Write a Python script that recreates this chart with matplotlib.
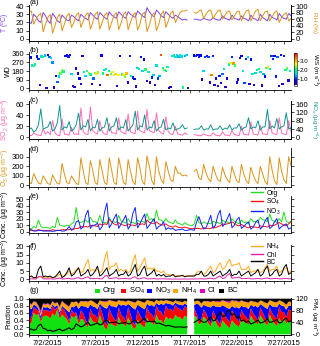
import numpy as np
import pandas as pd
import matplotlib
matplotlib.use('Agg')
import matplotlib.pyplot as plt
import matplotlib.dates as mdates
from matplotlib.ticker import FuncFormatter, NullFormatter
from matplotlib.colors import LinearSegmentedColormap
from matplotlib.lines import Line2D
from matplotlib.patches import Rectangle

plt.rcParams['font.family'] = ['Liberation Sans', 'DejaVu Sans']
plt.rcParams['mathtext.fontset'] = 'custom'
plt.rcParams['mathtext.rm'] = 'Liberation Sans'
plt.rcParams['mathtext.it'] = 'Liberation Sans:italic'
plt.rcParams['axes.linewidth'] = 0.6
nan = np.nan

# ---------------- data (6-hourly: 0,6,12,18 h, 6/30 - 7/27) ----------------
temp = [20,19,30,27, 22,20,32,28, 22,19,31,27, 22,20,29,26, 23,22,29,27, 24,22,30,27, 25,23,32,29,
        26,24,32,29, 26,24,33,29, 27,25,33,30, 27,25,33,30, 28,26,34,31, 28,26,38,33, 29,27,35,32,
        28,26,33,30, 27,25,29,27, 25,23,24,23, nan,nan,24,24, 23,23,25,24, 23,23,26,24, 23,23,28,25,
        24,23,29,25, 24,23,28,25, 24,22,29,25, 24,22,30,26, 24,22,30,26, 25,23,31,27, 25,24,31,28]
rh = [83,85,45,60, 72,78,22,45, 65,75,18,40, 65,75,25,45, 70,78,35,50, 72,80,35,55, 72,80,30,50,
      75,82,30,50, 72,80,28,50, 72,80,28,48, 75,82,28,50, 72,80,27,45, 75,82,22,42, 70,80,25,45,
      75,85,35,55, 78,85,50,65, 80,85,85,88, nan,nan,80,78, 85,88,62,75, 85,88,62,75, 85,88,60,72,
      82,85,58,70, 82,85,55,72, 85,88,55,70, 85,90,55,70, 82,85,55,68, 80,85,50,65, 75,80,55,62]
so2 = [4,3,8,5, 4,3,15,6, 10,5,30,8, 4,3,33,6, 5,4,18,6, 6,5,53,10, 6,5,55,12, 8,6,30,10, 6,5,25,8,
       8,6,35,10, 8,6,42,10, 8,7,47,12, 10,8,50,12, 10,8,44,12, 8,6,37,10, 6,5,20,6, 5,4,8,5,
       nan,nan,5,4, 3,3,6,4, 3,3,8,4, 3,3,10,4, 4,3,12,5, 4,3,20,5, 5,4,28,6, 5,4,22,6, 6,5,30,8,
       6,5,35,8, 6,5,30,10]
nox = [40,45,25,35, 60,137,40,45, 50,76,30,40, 70,153,35,50, 45,76,30,40, 60,116,35,55, 50,86,30,50,
       45,86,30,45, 50,94,30,50, 55,94,35,50, 45,85,30,45, 60,126,35,55, 50,108,35,50, 45,80,30,45,
       50,86,35,45, 40,70,35,40, 45,60,40,45, nan,nan,38,40, 40,55,35,40, 40,60,35,40, 40,55,35,45,
       40,60,35,45, 45,65,35,45, 50,94,40,50, 45,80,35,50, 50,134,40,55, 45,90,40,50, 55,118,40,45]
o3 = [30,20,125,70, 25,15,100,60, 20,10,110,60, 20,15,230,120, 30,20,100,60, 20,10,290,150,
      30,10,260,160, 30,10,270,150, 30,10,290,160, 30,10,290,170, 30,10,270,150, 40,10,290,180,
      40,10,310,200, 50,5,300,150, 60,20,250,150, 60,40,200,130, 130,100,110,100, nan,nan,150,170,
      80,60,220,130, 70,40,200,120, 60,40,190,110, 60,30,200,120, 50,30,220,120, 50,20,190,110,
      50,20,200,120, 40,10,300,160, 50,10,290,150, 60,20,300,210]
org = [5,4,8,6, 18,8,6,7, 6,5,8,6, 22,10,9,8, 10,9,12,14, 37,15,14,16, 18,14,22,16, 15,14,25,14,
       14,13,22,15, 15,14,25,16, 15,13,20,14, 14,12,18,15, 16,14,28,18, 20,15,33,18, 18,14,20,15,
       14,12,18,13, 12,10,14,11, 10,9,12,25, 14,12,15,13, 13,12,16,14, 14,12,18,15, 15,13,20,16,
       14,12,18,14, 15,12,20,15, 16,14,22,18, 18,15,27,17, 16,14,20,15, 30,16,14,16]
so4 = [2,2,2,2, 3,2,2,2, 2,2,3,2, 2,2,3,3, 3,3,4,4, 5,5,8,7, 8,7,10,9, 9,8,12,10, 12,11,19,15,
       12,10,14,11, 10,9,12,10, 10,9,13,11, 12,11,18,14, 13,12,15,12, 11,10,12,9, 8,7,9,7, 6,6,7,6,
       5,5,5,5, 5,4,6,5, 5,5,7,6, 8,9,12,11, 12,13,15,13, 10,9,11,9, 7,6,8,7, 7,6,9,8, 8,7,10,9,
       10,12,14,12, 10,9,12,15]
no3 = [5,3,1,1, 2,2,1,1, 1,1,0.5,1, 2,2,1,1, 3,8,2,5, 15,17,4,8, 25,33,5,10, 10,13,3,8, 30,44,6,12,
       20,27,5,12, 18,25,4,10, 28,37,6,12, 20,27,5,10, 15,20,4,8, 10,15,3,6, 4,5,2,3, 3,4,2,2,
       3,3,2,15, 23,12,4,6, 15,25,5,10, 25,33,8,12, 20,28,6,10, 18,22,5,8, 12,15,4,7, 14,18,4,8,
       16,22,5,8, 15,20,4,8, 10,12,4,6]
nh4 = [2,1.5,1,1, 1.5,1.5,1,1, 1,1,1,1, 2,3,2,2, 3,5,3,4, 6,7,4,5, 9,12,5,6, 5,6,4,5, 12,17,6,8,
       8,10,5,6, 5,6,4,5, 11,15,5,7, 10,13,6,7, 6,7,5,5, 4,5,3,3, 2.5,2.5,2,2, 2,2,2,2, 2,2,2,4,
       5,4,3,4, 6,8,4,5, 8,10,6,7, 10,12,8,9, 9,10,6,6, 6,8,4,5, 5,6,4,5, 7,9,5,6, 6,8,4,5, 6,7,4,5]
chl = [0.3,0.3,0.2,0.2, 1.5,2,0.3,0.3, 0.3,0.3,0.2,0.2, 0.5,0.8,0.2,0.3, 0.5,0.6,0.2,0.3,
       0.8,1.0,0.3,0.4, 1.2,1.5,0.3,0.5, 0.5,0.7,0.3,0.3, 1.8,2.5,0.4,0.6, 0.8,1.0,0.3,0.4,
       0.5,0.6,0.3,0.3, 1.2,1.5,0.3,0.4, 0.8,1.0,0.3,0.3, 0.4,0.5,0.2,0.3, 0.3,0.4,0.2,0.2,
       0.2,0.2,0.2,0.2, 0.2,0.2,0.2,0.2, 0.2,0.2,0.2,0.3, 0.3,0.4,0.2,0.3, 0.5,0.8,0.3,0.4,
       1.5,2.0,0.5,0.8, 2.5,3.5,0.6,1.0, 1.0,1.5,0.4,0.5, 0.5,0.7,0.3,0.3, 0.4,0.6,0.3,0.3,
       0.6,0.8,0.3,0.4, 0.5,0.6,0.3,0.3, 0.5,0.6,0.3,0.4]
bc = [1.5,2,1,1, 6,8,1.5,2, 1.5,2,1,1.5, 3,5,1,2, 4,7,2,3, 5,7,2,3, 4,6,2,3, 5,8,2,3, 5,7,2,3,
      4,6,2,3, 3,5,2,3, 6,9,2,3, 6,8,2,3, 4,6,2,3, 2,3,1.5,2, 2,3,1.5,2, 2,2.5,1.5,2, 2,2,2,3,
      3,5,2,2, 3,5,2,3, 4,5,2,3, 4,6,2,3, 3,5,2,3, 4,5,2,3, 4,6,2,3, 6,8,2,3, 5,6,2,3, 7,9,3,4]
pm = [15,18,14,16, 30,34,20,18, 12,14,10,12, 15,18,12,14, 18,22,16,20, 35,30,25,28, 35,40,30,32,
      35,38,32,34, 45,48,38,40, 40,42,35,38, 38,40,35,36, 45,48,38,40, 48,54,42,44, 42,45,36,38,
      35,32,28,30, 28,26,24,25, 25,24,24,25, nan,nan,40,45, 50,45,40,42, 50,58,45,48, 65,75,60,62,
      78,80,65,70, 55,60,45,48, 40,45,35,38, 42,48,38,40, 45,52,40,42, 45,50,38,40, 50,55,42,45]

# wind (4-hourly)
wd = [340,325,240,230,250,335, 310,30,335,330,345,0, 350,330,320,270,5,130, 65,120,155,185,175,340,
      345,335,350,150,20,10, 205,155,100,45,340,170, 130,180,160,145,45,100, 160,150,165,30,345,155,
      190,200,135,180,150,170, 140,150,20,135,340,145, 140,120,155,60,340,130, 110,95,15,210,200,330,
      180,300,195,75,170,60, 110,140,30,240,100,125, 350,210,190,180,220,0, 10,340,345,330,350,335,
      345,335,5,340,350,0, nan,nan,nan,345,340,350, 335,345,90,180,330,340, 330,60,135,340,30,100,
      20,130,50,150,200,10, 100,250,265,330,260,240, 60,90,320,340,180,50, 310,330,45,300,150,30,
      160,190,200,170,25,150, 120,210,225,200,340,310, 340,120,330,20,350,45, 340,190,205,80,180,nan]
ws = [0.6,0.8,1.8,2.2,1.9,0.9, 1.0,0.7,1.6,2.0,1.4,0.5, 0.8,1.2,1.5,1.3,0.6,0.8, 1.2,1.6,2.3,2.5,2.1,0.9,
      0.8,1.0,0.7,1.5,0.5,0.6, 0.7,0.8,0.9,0.6,0.8,1.8, 1.5,2.2,2.4,2.0,0.7,1.2, 2.4,2.8,2.5,0.6,0.9,2.1,
      1.7,1.9,3.4,2.0,2.3,2.6, 2.6,2.9,0.5,2.7,0.9,2.2, 2.8,2.4,3.0,0.8,1.0,2.0, 1.0,0.9,0.5,1.7,1.8,0.8,
      1.6,0.9,2.2,0.6,1.9,0.5, 1.0,1.5,0.5,1.7,1.1,1.4, 3.5,2.1,2.3,2.0,1.9,0.6, 0.6,1.7,2.0,1.8,1.6,1.4,
      1.9,1.6,2.1,1.4,1.5,0.5, nan,nan,nan,0.9,1.1,0.8, 1.0,0.8,0.6,1.5,1.1,0.7, 1.1,0.7,3.3,1.0,0.6,0.7,
      0.6,1.0,0.8,1.2,1.6,0.5, 0.6,2.0,2.6,1.0,3.2,2.2, 0.7,0.9,0.6,0.8,1.7,1.1, 1.0,1.5,0.6,0.8,2.0,0.7,
      1.6,1.8,2.1,1.7,0.5,1.4, 0.9,2.3,2.8,2.0,1.1,1.0, 0.8,1.0,1.2,0.6,0.7,0.6, 1.0,2.1,2.3,0.7,1.9,nan]

date_ticks = ['2015-07-02', '2015-07-07', '2015-07-12', '2015-07-17', '2015-07-22', '2015-07-27']
legend_g = ['Org', 'SO$_4$', 'NO$_3$', 'NH$_4$', 'Cl', 'BC']

t6 = pd.date_range('2015-06-30', periods=len(temp), freq='6h')
t4 = pd.date_range('2015-06-30', periods=len(wd), freq='4h')

FS = 5.5
LFS = 5.0
W, H = 320, 346
fig = plt.figure(figsize=(3.2, 3.46), dpi=100)

def add_ax(top, bottom):
    return fig.add_axes([29 / W, 1 - bottom / H, 262 / W, (bottom - top) / H])

xmin = pd.Timestamp('2015-06-30 00:00')
xmax = pd.Timestamp('2015-07-27 18:00')

def datefmt(x, pos):
    d = mdates.num2date(x)
    return f"{d.month}/{d.day}/{d.year}"

def setup(ax, labels=False, right_ticks=True):
    ax.set_xlim(xmin, xmax)
    ax.set_xticks([pd.Timestamp(d) for d in date_ticks])
    ax.xaxis.set_minor_locator(mdates.DayLocator())
    if labels:
        ax.xaxis.set_major_formatter(FuncFormatter(datefmt))
    else:
        ax.xaxis.set_major_formatter(NullFormatter())
    ax.tick_params(which='major', direction='out', length=2.5, width=0.5, labelsize=FS, pad=1)
    ax.tick_params(which='minor', direction='out', length=1.5, width=0.5)
    ax.spines['top'].set_visible(False)
    if right_ticks:
        ax.tick_params(axis='y', which='both', right=True, labelright=False)

def lab(ax, text, color='black', side='left'):
    if side == 'left':
        ax.set_ylabel(text, color=color, fontsize=LFS, labelpad=0)
        ax.yaxis.set_label_coords(-0.064, 0.5)
    else:
        ax.set_ylabel(text, color=color, fontsize=4.6, rotation=270, labelpad=0, va='center')
        ax.yaxis.set_label_coords(1.088, 0.5)

def panel(letter, y):
    fig.text(30 / W, 1 - y / H, letter, fontsize=FS, ha='left', va='center')

c_T = '#8040f0'
c_RH = '#d8951a'
c_so2 = '#ff6cb5'
c_nox = '#13938f'
c_o3 = '#d8951a'
c_org, c_so4, c_no3 = '#22dd22', '#ff1111', '#1122ff'
c_nh4, c_chl, c_bc = '#ffaa22', '#e020b0', '#000000'

# (a)
ax = add_ax(5.2, 40.6)
setup(ax, right_ticks=False)
ax.plot(t6, temp, color=c_T, lw=0.7)
ax.set_ylim(-2, 41)
ax.set_yticks([0, 10, 20, 30, 40])
lab(ax, 'T ($^o$C)', c_T)
ax2 = ax.twinx()
setup(ax2, right_ticks=False)
ax2.plot(t6, rh, color=c_RH, lw=0.7)
ax2.set_ylim(-5, 102.5)
ax2.set_yticks([0, 20, 40, 60, 80, 100])
ax2.tick_params(axis='y', labelsize=FS, pad=1, length=2.5, width=0.5)
lab(ax2, 'RH (%)', c_RH, 'right')
panel('(a)', 3)

# (b)
cmap = LinearSegmentedColormap.from_list('ws', ['#4000a0', '#0000ff', '#00d0ff', '#00ff80',
                                                '#ffff00', '#ff8000', '#ff0000'])
ax = add_ax(52.1, 89.9)
setup(ax, right_ticks=False)
ax.spines['right'].set_visible(False)
sc = ax.scatter(t4, wd, c=ws, cmap=cmap, vmin=0.3, vmax=3.9, s=3, marker='s', linewidths=0)
ax.set_ylim(-20, 380)
ax.set_yticks([0, 90, 180, 270, 360])
lab(ax, 'WD')
panel('(b)', 50)
cax = fig.add_axes([294.2 / W, 1 - 85.5 / H, 3 / W, 32.5 / H])
cb = fig.colorbar(sc, cax=cax, ticks=[1, 2, 3], format='%.1f')
cb.outline.set_linewidth(0.4)
cax.tick_params(labelsize=4.4, length=1.2, width=0.4, pad=0.5)
cax.set_ylabel('WS (m s$^{-1}$)', fontsize=4.6, rotation=270, va='center')
cax.yaxis.set_label_coords(6.9, 0.5)

# (c)
ax = add_ax(100.7, 139)
setup(ax, right_ticks=False)
ax.plot(t6, so2, color=c_so2, lw=0.7)
ax.set_ylim(-3, 66)
ax.set_yticks([0, 20, 40, 60])
lab(ax, 'SO$_2$ (µg m$^{-3}$)', c_so2)
ax2 = ax.twinx()
setup(ax2, right_ticks=False)
ax2.plot(t6, nox, color=c_nox, lw=0.7)
ax2.set_ylim(-8, 176)
ax2.set_yticks([0, 40, 80, 120, 160])
ax2.tick_params(axis='y', labelsize=FS, pad=1, length=2.5, width=0.5)
lab(ax2, 'NO$_x$ (µg m$^{-3}$)', c_nox, 'right')
panel('(c)', 101)

# (d)
ax = add_ax(148.2, 186.9)
setup(ax)
ax.plot(t6, o3, color=c_o3, lw=0.7)
ax.set_ylim(-15, 390)
ax.set_yticks([0, 100, 200, 300])
lab(ax, 'O$_3$ (µg m$^{-3}$)', c_o3)
panel('(d)', 150)

# (e)
ax = add_ax(196.4, 233)
setup(ax)
ax.plot(t6, org, color=c_org, lw=0.7)
ax.plot(t6, so4, color=c_so4, lw=0.7)
ax.plot(t6, no3, color=c_no3, lw=0.7)
ax.set_ylim(-2, 54)
ax.set_yticks([0, 10, 20, 30, 40, 50])
lab(ax, 'Conc. (µg m$^{-3}$)')
panel('(e)', 196)
hs = [Line2D([], [], color=c, lw=1) for c in (c_org, c_so4, c_no3)]
ax.legend(hs, ['Org', 'SO$_4$', 'NO$_3$'], loc='upper left', bbox_to_anchor=(251 / W, 1 - 189.5 / H),
          bbox_transform=fig.transFigure, frameon=False, fontsize=4.8, handlelength=1.8,
          handletextpad=0.5, labelspacing=0.0, borderpad=0, borderaxespad=0)

# (f)
ax = add_ax(244.6, 281)
setup(ax)
ax.plot(t6, nh4, color=c_nh4, lw=0.7)
ax.plot(t6, chl, color=c_chl, lw=0.7)
ax.plot(t6, bc, color=c_bc, lw=0.7)
ax.set_ylim(-1, 21)
ax.set_yticks([0, 5, 10, 15, 20])
lab(ax, 'Conc. (µg m$^{-3}$)')
panel('(f)', 246)
hs = [Line2D([], [], color=c, lw=1) for c in (c_nh4, c_chl, c_bc)]
ax.legend(hs, ['NH$_4$', 'Chl', 'BC'], loc='upper left', bbox_to_anchor=(251 / W, 1 - 241.5 / H),
          bbox_transform=fig.transFigure, frameon=False, fontsize=4.8, handlelength=1.8,
          handletextpad=0.5, labelspacing=0.0, borderpad=0, borderaxespad=0)

# (g)
ax = add_ax(297.6, 335.4)
setup(ax, labels=True, right_ticks=False)
species = np.array([org, so4, no3, nh4, chl, bc], dtype=float)
frac = species / species.sum(axis=0)
gap = np.isnan(np.array(pm, dtype=float))
frac[:, gap] = np.nan
cum = np.vstack([np.zeros(frac.shape[1]), np.cumsum(frac, axis=0)])
stack_cols = ['#11e011', '#ff0000', '#0000ff', '#ffa500', '#e000c0', '#000000']
for i, c in enumerate(stack_cols):
    ax.fill_between(t6, cum[i], cum[i + 1], color=c, lw=0)
ax.set_ylim(-0.03, 1.03)
ax.set_yticks([0, 0.2, 0.4, 0.6, 0.8, 1.0])
ax.yaxis.set_major_formatter(FuncFormatter(lambda v, p: f"{v:.1f}"))
lab(ax, 'Fraction')
ax2 = ax.twinx()
setup(ax2, labels=True, right_ticks=False)
ax2.plot(t6, pm, color='black', lw=0.8)
ax2.set_ylim(-3.6, 123.6)
ax2.set_yticks([0, 40, 80, 120])
ax2.tick_params(axis='y', labelsize=FS, pad=1, length=2.5, width=0.5)
lab(ax2, 'PM$_1$ (µg m$^{-3}$)', 'black', 'right')
panel('(g)', 291)
pos_x = [95, 121, 147, 173, 200, 219]
for px, name, c in zip(pos_x, legend_g, stack_cols):
    fig.patches.append(Rectangle((px / W, 1 - 293 / H), 5 / W, 4 / H, transform=fig.transFigure,
                                 facecolor=c, edgecolor='none'))
    fig.text((px + 8) / W, 1 - 291 / H, name, fontsize=FS, ha='left', va='center')

fig.savefig('out.png', dpi=100)
